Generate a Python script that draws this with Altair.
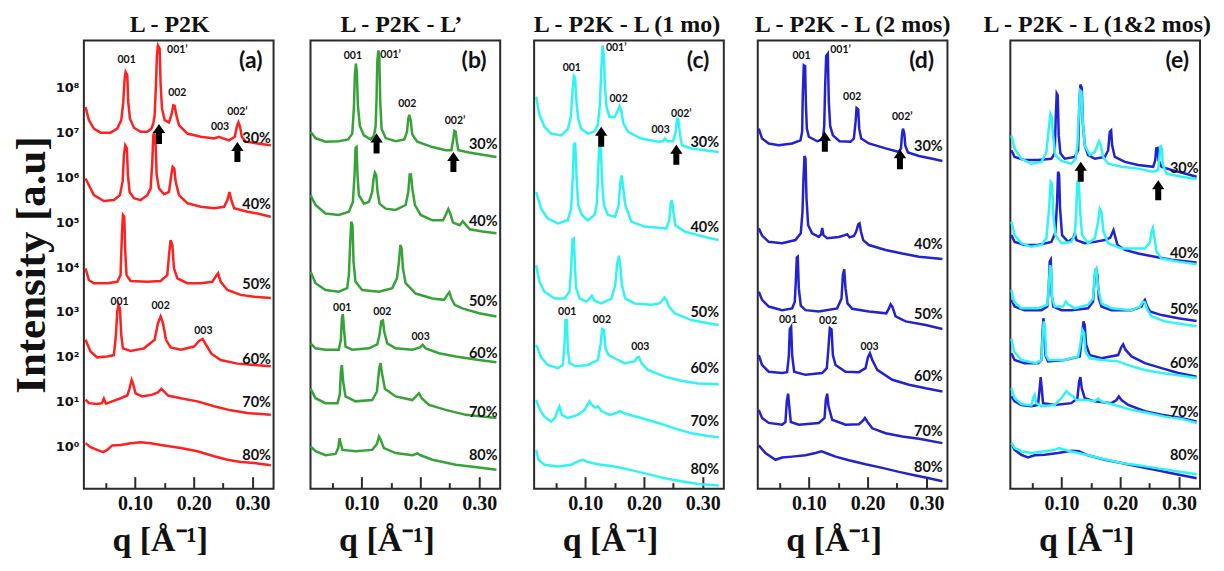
import altair as alt
import pandas as pd

# ---------------- axis / scale values ----------------
X_DOMAIN = [0.0131, 0.3358]
Y_DOMAIN = [-0.933, 9.044]
X_MAJOR = [0.10, 0.20, 0.30]
X_MINOR = [0.05, 0.15, 0.25]
Y_TICKS = [0, 1, 2, 3, 4, 5, 6, 7, 8]
PCT_NAMES = ["30%", "40%", "50%", "60%", "70%", "80%"]
TITLES = ["L - P2K", "L - P2K - L\u2019", "L - P2K - L (1 mo)", "L - P2K - L (2 mos)", "L - P2K - L (1&2 mos)"]

# ---------------- panel (a) L-P2K : (q, log10 I) ----------------
A30 = [(0.0159,7.56),(0.0216,7.27),(0.0301,7.08),(0.0415,6.99),(0.0585,6.99),(0.0699,7.08),(0.0767,7.27),(0.0801,7.67),(0.0824,8.19),(0.0841,8.34),(0.0869,8.27),(0.0886,7.67),(0.0915,7.30),(0.0983,7.10),(0.1096,7.01),(0.1210,7.01),(0.1278,7.08),(0.1312,7.19),(0.1335,7.38),(0.1357,8.05),(0.1374,8.71),(0.1391,8.93),(0.1420,8.86),(0.1437,8.05),(0.1460,7.53),(0.1505,7.27),(0.1579,7.22),(0.1619,7.38),(0.1653,7.60),(0.1675,7.59),(0.1704,7.38),(0.1749,7.16),(0.1891,6.97),(0.2119,6.90),(0.2346,6.86),(0.2431,6.90),(0.2488,6.87),(0.2601,6.82),(0.2698,6.90),(0.2732,7.12),(0.2760,7.22),(0.2789,7.12),(0.2817,6.90),(0.2885,6.79),(0.3084,6.75),(0.3311,6.71)]
A40 = [(0.0159,5.97),(0.0301,5.60),(0.0471,5.47),(0.0642,5.49),(0.0744,5.60),(0.0790,5.90),(0.0812,6.49),(0.0835,6.71),(0.0863,6.64),(0.0880,6.05),(0.0909,5.67),(0.0983,5.53),(0.1096,5.49),(0.1210,5.60),(0.1267,5.75),(0.1295,6.34),(0.1312,6.93),(0.1329,7.01),(0.1352,6.71),(0.1369,6.05),(0.1409,5.75),(0.1494,5.62),(0.1579,5.67),(0.1619,6.05),(0.1641,6.23),(0.1670,6.19),(0.1692,5.90),(0.1749,5.60),(0.1891,5.42),(0.2119,5.34),(0.2346,5.31),(0.2516,5.34),(0.2573,5.49),(0.2607,5.67),(0.2641,5.49),(0.2687,5.31),(0.2914,5.23),(0.3084,5.19),(0.3311,5.12)]
A50 = [(0.0159,3.97),(0.0216,3.71),(0.0301,3.64),(0.0528,3.64),(0.0699,3.67),(0.0755,3.82),(0.0778,4.71),(0.0795,5.16),(0.0818,5.12),(0.0835,4.34),(0.0857,3.82),(0.0926,3.69),(0.1210,3.67),(0.1437,3.69),(0.1550,3.82),(0.1585,4.34),(0.1607,4.60),(0.1636,4.49),(0.1664,3.97),(0.1721,3.75),(0.1891,3.64),(0.2119,3.64),(0.2317,3.67),(0.2374,3.79),(0.2414,3.86),(0.2459,3.67),(0.2573,3.49),(0.2800,3.38),(0.3027,3.34),(0.3311,3.31)]
A60 = [(0.0159,2.38),(0.0244,2.12),(0.0358,1.99),(0.0528,2.01),(0.0642,2.04),(0.0676,2.49),(0.0699,3.01),(0.0721,3.16),(0.0744,3.08),(0.0767,2.49),(0.0795,2.19),(0.0926,2.13),(0.1153,2.19),(0.1335,2.38),(0.1391,2.75),(0.1437,2.90),(0.1477,2.75),(0.1528,2.38),(0.1607,2.21),(0.1778,2.16),(0.2005,2.23),(0.2096,2.36),(0.2153,2.40),(0.2209,2.27),(0.2300,2.07),(0.2459,1.93),(0.2743,1.85),(0.3027,1.82),(0.3311,1.79)]
A70 = [(0.0159,1.05),(0.0216,0.97),(0.0358,0.95),(0.0437,0.97),(0.0471,1.07),(0.0506,0.96),(0.0613,1.01),(0.0755,1.08),(0.0869,1.14),(0.0909,1.30),(0.0943,1.49),(0.0971,1.39),(0.1011,1.19),(0.1125,1.12),(0.1295,1.16),(0.1391,1.21),(0.1448,1.29),(0.1494,1.23),(0.1562,1.14),(0.1778,1.08),(0.2062,1.01),(0.2346,0.90),(0.2630,0.81),(0.2914,0.75),(0.3311,0.71)]
A80 = [(0.0159,0.08),(0.0244,-0.01),(0.0358,-0.07),(0.0460,-0.12),(0.0528,-0.07),(0.0613,0.03),(0.0755,0.04),(0.0926,0.08),(0.1096,0.10),(0.1267,0.08),(0.1494,0.03),(0.1778,-0.03),(0.2062,-0.10),(0.2346,-0.21),(0.2573,-0.29),(0.2800,-0.34),(0.3027,-0.36),(0.3311,-0.41)]

# ---------------- panel (b) L-P2K-L' ----------------
B30 = [(0.0131,7.01),(0.0216,6.87),(0.0386,6.79),(0.0613,6.80),(0.0772,6.84),(0.0841,6.97),(0.0869,7.53),(0.0886,8.27),(0.0903,8.53),(0.0920,8.34),(0.0937,7.60),(0.0971,7.14),(0.1039,6.93),(0.1153,6.84),(0.1210,6.92),(0.1238,7.12),(0.1255,7.75),(0.1267,8.56),(0.1284,8.82),(0.1301,8.71),(0.1318,7.67),(0.1340,7.08),(0.1409,6.87),(0.1579,6.80),(0.1727,6.84),(0.1772,7.01),(0.1795,7.30),(0.1812,7.39),(0.1835,7.27),(0.1863,6.95),(0.1948,6.79),(0.2204,6.67),(0.2431,6.60),(0.2528,6.60),(0.2556,6.82),(0.2579,7.03),(0.2601,7.01),(0.2619,6.80),(0.2647,6.60),(0.2829,6.55),(0.3056,6.50),(0.3294,6.45)]
B40 = [(0.0131,5.60),(0.0216,5.38),(0.0386,5.19),(0.0613,5.16),(0.0784,5.23),(0.0852,5.45),(0.0880,6.04),(0.0897,6.65),(0.0914,6.67),(0.0931,6.04),(0.0954,5.60),(0.1039,5.41),(0.1125,5.45),(0.1181,5.67),(0.1204,5.97),(0.1227,6.10),(0.1249,6.04),(0.1272,5.67),(0.1306,5.41),(0.1409,5.30),(0.1579,5.27),(0.1749,5.38),(0.1795,5.67),(0.1818,6.06),(0.1840,6.06),(0.1863,5.75),(0.1908,5.38),(0.2005,5.16),(0.2204,5.04),(0.2386,5.04),(0.2442,5.19),(0.2476,5.29),(0.2511,5.18),(0.2556,4.99),(0.2670,4.93),(0.2721,5.02),(0.2760,4.96),(0.2840,4.84),(0.3056,4.79),(0.3294,4.75)]
B50 = [(0.0131,3.90),(0.0216,3.64),(0.0386,3.49),(0.0613,3.45),(0.0755,3.53),(0.0784,3.82),(0.0807,4.56),(0.0824,5.01),(0.0846,4.93),(0.0863,4.12),(0.0897,3.67),(0.1011,3.49),(0.1295,3.45),(0.1522,3.53),(0.1602,3.75),(0.1636,4.12),(0.1659,4.49),(0.1681,4.41),(0.1704,3.97),(0.1749,3.64),(0.1920,3.41),(0.2204,3.30),(0.2403,3.27),(0.2459,3.38),(0.2493,3.44),(0.2528,3.30),(0.2584,3.16),(0.2715,3.08),(0.2999,2.97),(0.3294,2.90)]
B60 = [(0.0131,2.30),(0.0216,2.19),(0.0386,2.16),(0.0613,2.16),(0.0647,2.38),(0.0665,2.86),(0.0682,2.95),(0.0699,2.64),(0.0727,2.23),(0.0841,2.16),(0.1125,2.19),(0.1267,2.28),(0.1306,2.50),(0.1335,2.79),(0.1363,2.81),(0.1386,2.56),(0.1437,2.30),(0.1579,2.19),(0.1863,2.16),(0.1994,2.21),(0.2039,2.27),(0.2090,2.19),(0.2317,2.08),(0.2601,2.01),(0.2999,1.93),(0.3294,1.88)]
B70 = [(0.0131,1.30),(0.0216,1.08),(0.0386,0.97),(0.0591,0.97),(0.0630,1.16),(0.0647,1.67),(0.0665,1.82),(0.0687,1.45),(0.0727,1.12),(0.0897,1.01),(0.1181,1.04),(0.1261,1.23),(0.1301,1.75),(0.1323,1.86),(0.1346,1.64),(0.1397,1.29),(0.1579,1.12),(0.1863,1.04),(0.1937,1.14),(0.1977,1.19),(0.2022,1.08),(0.2147,0.93),(0.2431,0.82),(0.2772,0.71),(0.3294,0.64)]
B80 = [(0.0131,0.01),(0.0216,-0.10),(0.0386,-0.19),(0.0557,-0.16),(0.0602,-0.03),(0.0625,0.19),(0.0642,0.08),(0.0676,-0.07),(0.0897,-0.10),(0.1181,-0.07),(0.1261,0.06),(0.1295,0.23),(0.1323,0.16),(0.1380,-0.03),(0.1579,-0.14),(0.1863,-0.19),(0.1948,-0.15),(0.2005,-0.19),(0.2204,-0.29),(0.2601,-0.40),(0.2999,-0.46),(0.3294,-0.51)]

# ---------------- panel (c) L-P2K-L (1 mo) ----------------
C30 = [(0.0165,7.79),(0.0222,7.38),(0.0307,7.12),(0.0420,6.97),(0.0591,6.93),(0.0704,7.07),(0.0755,7.34),(0.0784,7.90),(0.0807,8.25),(0.0829,8.21),(0.0852,7.67),(0.0880,7.30),(0.0931,7.08),(0.1045,6.97),(0.1159,7.02),(0.1215,7.16),(0.1249,7.60),(0.1272,8.34),(0.1295,8.93),(0.1318,8.71),(0.1335,8.04),(0.1363,7.56),(0.1414,7.34),(0.1500,7.34),(0.1556,7.49),(0.1585,7.58),(0.1613,7.49),(0.1647,7.21),(0.1727,7.01),(0.1954,6.86),(0.2238,6.79),(0.2323,6.80),(0.2357,6.86),(0.2397,6.80),(0.2493,6.80),(0.2539,7.01),(0.2562,7.30),(0.2584,7.29),(0.2613,6.93),(0.2647,6.71),(0.2806,6.64),(0.3033,6.60),(0.3272,6.56)]
C40 = [(0.0165,5.67),(0.0250,5.30),(0.0363,5.08),(0.0534,4.97),(0.0704,5.04),(0.0761,5.30),(0.0790,6.04),(0.0807,6.71),(0.0829,6.77),(0.0852,6.04),(0.0880,5.38),(0.0943,5.16),(0.1045,5.04),(0.1159,5.16),(0.1198,5.41),(0.1221,6.19),(0.1244,6.80),(0.1266,6.71),(0.1284,5.97),(0.1318,5.38),(0.1386,5.16),(0.1511,5.12),(0.1568,5.38),(0.1596,5.86),(0.1619,6.04),(0.1641,5.82),(0.1681,5.38),(0.1784,5.01),(0.2011,4.90),(0.2380,4.86),(0.2431,5.04),(0.2454,5.41),(0.2476,5.49),(0.2499,5.23),(0.2533,4.93),(0.2692,4.79),(0.2919,4.71),(0.3090,4.65),(0.3272,4.60)]
C50 = [(0.0165,4.04),(0.0222,3.67),(0.0307,3.45),(0.0477,3.30),(0.0648,3.30),(0.0733,3.45),(0.0761,3.97),(0.0784,4.62),(0.0807,4.64),(0.0824,4.04),(0.0846,3.53),(0.0903,3.30),(0.1017,3.23),(0.1079,3.30),(0.1113,3.36),(0.1159,3.25),(0.1272,3.19),(0.1443,3.29),(0.1511,3.60),(0.1545,4.08),(0.1573,4.25),(0.1596,4.04),(0.1624,3.60),(0.1681,3.30),(0.1840,3.19),(0.2124,3.16),(0.2266,3.19),(0.2317,3.27),(0.2351,3.32),(0.2386,3.26),(0.2425,3.12),(0.2522,2.97),(0.2806,2.82),(0.3090,2.75),(0.3272,2.71)]
C60 = [(0.0165,2.27),(0.0250,1.99),(0.0363,1.82),(0.0534,1.75),(0.0619,1.82),(0.0648,2.27),(0.0665,2.82),(0.0687,2.82),(0.0704,2.19),(0.0733,1.86),(0.0846,1.79),(0.1045,1.82),(0.1215,1.93),(0.1261,2.27),(0.1289,2.62),(0.1318,2.60),(0.1346,2.19),(0.1397,2.04),(0.1500,1.97),(0.1670,1.86),(0.1840,1.90),(0.1886,1.99),(0.1914,2.00),(0.1954,1.86),(0.2068,1.71),(0.2351,1.56),(0.2636,1.47),(0.2919,1.41),(0.3272,1.39)]
C70 = [(0.0165,1.04),(0.0222,0.84),(0.0307,0.67),(0.0420,0.56),(0.0488,0.65),(0.0534,0.82),(0.0562,0.90),(0.0602,0.71),(0.0704,0.64),(0.0875,0.71),(0.0988,0.82),(0.1045,0.95),(0.1073,1.01),(0.1113,0.93),(0.1170,0.87),(0.1215,0.90),(0.1272,0.80),(0.1414,0.71),(0.1528,0.75),(0.1585,0.79),(0.1698,0.73),(0.1954,0.64),(0.2238,0.53),(0.2522,0.41),(0.2806,0.30),(0.3090,0.24),(0.3272,0.21)]
C80 = [(0.0165,-0.07),(0.0204,-0.29),(0.0307,-0.40),(0.0534,-0.44),(0.0761,-0.40),(0.0903,-0.31),(0.0960,-0.29),(0.1045,-0.34),(0.1215,-0.39),(0.1500,-0.44),(0.1784,-0.52),(0.2068,-0.61),(0.2351,-0.70),(0.2636,-0.77),(0.2919,-0.83),(0.3272,-0.86)]

# ---------------- panel (d) L-P2K-L (2 mos) ----------------
D30 = [(0.0148,7.08),(0.0204,6.86),(0.0318,6.75),(0.0488,6.71),(0.0716,6.75),(0.0858,6.82),(0.0886,7.01),(0.0897,7.82),(0.0914,8.49),(0.0937,8.47),(0.0949,7.67),(0.0966,7.08),(0.1000,6.90),(0.1142,6.80),(0.1238,6.84),(0.1261,7.12),(0.1278,8.04),(0.1295,8.70),(0.1323,8.75),(0.1340,7.67),(0.1363,7.14),(0.1409,6.93),(0.1522,6.80),(0.1710,6.79),(0.1766,6.86),(0.1795,7.23),(0.1812,7.54),(0.1840,7.51),(0.1857,7.08),(0.1891,6.86),(0.2022,6.75),(0.2306,6.64),(0.2533,6.56),(0.2567,6.64),(0.2584,6.93),(0.2601,7.08),(0.2624,6.97),(0.2641,6.70),(0.2687,6.55),(0.2874,6.47),(0.3101,6.41),(0.3272,6.36)]
D40 = [(0.0148,4.86),(0.0204,4.70),(0.0318,4.56),(0.0545,4.53),(0.0772,4.60),(0.0863,4.75),(0.0892,5.23),(0.0909,5.97),(0.0926,6.47),(0.0943,6.41),(0.0960,5.53),(0.0988,4.93),(0.1056,4.75),(0.1170,4.67),(0.1210,4.73),(0.1227,4.87),(0.1249,4.71),(0.1312,4.64),(0.1511,4.67),(0.1613,4.71),(0.1653,4.73),(0.1692,4.66),(0.1766,4.69),(0.1806,4.79),(0.1840,4.95),(0.1863,4.97),(0.1886,4.79),(0.1925,4.60),(0.2022,4.49),(0.2306,4.38),(0.2590,4.30),(0.2874,4.23),(0.3272,4.18)]
D50 = [(0.0148,3.45),(0.0204,3.27),(0.0318,3.12),(0.0545,3.04),(0.0716,3.08),(0.0761,3.23),(0.0778,3.67),(0.0795,4.21),(0.0812,4.23),(0.0829,3.53),(0.0863,3.14),(0.0943,3.04),(0.1170,3.01),(0.1482,3.08),(0.1556,3.30),(0.1579,3.82),(0.1602,3.95),(0.1624,3.53),(0.1658,3.19),(0.1738,3.07),(0.2022,3.01),(0.2317,2.97),(0.2363,3.08),(0.2391,3.17),(0.2420,3.12),(0.2476,2.90),(0.2647,2.79),(0.2987,2.71),(0.3272,2.62)]
D60 = [(0.0148,2.04),(0.0204,1.82),(0.0318,1.67),(0.0545,1.64),(0.0630,1.66),(0.0659,2.01),(0.0676,2.62),(0.0699,2.67),(0.0716,2.04),(0.0750,1.67),(0.0943,1.60),(0.1227,1.64),(0.1306,1.75),(0.1335,2.23),(0.1357,2.64),(0.1386,2.61),(0.1409,2.04),(0.1454,1.82),(0.1624,1.67),(0.1852,1.66),(0.1965,1.75),(0.2005,1.99),(0.2039,2.08),(0.2079,1.93),(0.2164,1.71),(0.2420,1.49),(0.2704,1.38),(0.2987,1.30),(0.3272,1.23)]
D70 = [(0.0148,0.82),(0.0204,0.64),(0.0318,0.53),(0.0545,0.49),(0.0602,0.55),(0.0625,1.01),(0.0647,1.18),(0.0665,0.93),(0.0693,0.55),(0.0829,0.49),(0.1170,0.53),(0.1267,0.64),(0.1289,1.04),(0.1312,1.18),(0.1335,0.90),(0.1397,0.60),(0.1624,0.49),(0.1852,0.50),(0.1920,0.58),(0.1954,0.64),(0.1999,0.55),(0.2079,0.41),(0.2306,0.30),(0.2590,0.23),(0.2874,0.18),(0.3272,0.08)]
D80 = [(0.0148,0.03),(0.0261,-0.14),(0.0432,-0.29),(0.0545,-0.24),(0.0716,-0.22),(0.0943,-0.19),(0.1113,-0.14),(0.1215,-0.10),(0.1312,-0.15),(0.1454,-0.22),(0.1681,-0.30),(0.1965,-0.39),(0.2249,-0.47),(0.2533,-0.56),(0.2817,-0.64),(0.3044,-0.70),(0.3272,-0.77)]

# ---------------- panel (e) overlay: 2 mos (blue) & 1 mo (cyan) ----------------
E30B = [(0.0148,6.60),(0.0204,6.45),(0.0375,6.38),(0.0602,6.38),(0.0829,6.41),(0.0886,6.53),(0.0903,7.30),(0.0920,7.86),(0.0937,7.82),(0.0954,6.93),(0.0983,6.53),(0.1056,6.41),(0.1227,6.45),(0.1284,6.60),(0.1306,7.67),(0.1323,8.06),(0.1346,7.99),(0.1363,7.23),(0.1397,6.71),(0.1454,6.49),(0.1568,6.41),(0.1738,6.45),(0.1795,6.60),(0.1823,7.01),(0.1846,7.04),(0.1863,6.71),(0.1908,6.45),(0.2079,6.34),(0.2306,6.27),(0.2562,6.23),(0.2596,6.38),(0.2613,6.64),(0.2635,6.65),(0.2652,6.38),(0.2704,6.23),(0.2874,6.16),(0.3101,6.08),(0.3300,6.01)]
E30C = [(0.0148,6.93),(0.0204,6.64),(0.0318,6.41),(0.0488,6.30),(0.0659,6.34),(0.0744,6.55),(0.0784,7.08),(0.0812,7.41),(0.0835,7.34),(0.0858,6.93),(0.0897,6.49),(0.1000,6.36),(0.1170,6.30),(0.1244,6.41),(0.1272,6.71),(0.1295,7.38),(0.1318,7.93),(0.1340,7.90),(0.1363,7.23),(0.1397,6.71),(0.1482,6.50),(0.1568,6.56),(0.1613,6.71),(0.1641,6.80),(0.1670,6.71),(0.1710,6.45),(0.1795,6.30),(0.2022,6.23),(0.2306,6.19),(0.2562,6.12),(0.2647,6.16),(0.2670,6.49),(0.2687,6.71),(0.2709,6.64),(0.2726,6.27),(0.2789,6.08),(0.3044,6.01),(0.3300,5.96)]
E40B = [(0.0148,4.71),(0.0204,4.56),(0.0375,4.49),(0.0602,4.49),(0.0829,4.56),(0.0897,4.77),(0.0926,5.45),(0.0943,6.12),(0.0960,6.06),(0.0977,5.30),(0.1011,4.71),(0.1113,4.56),(0.1199,4.64),(0.1227,4.75),(0.1255,4.60),(0.1397,4.53),(0.1568,4.56),(0.1738,4.60),(0.1829,4.65),(0.1863,4.75),(0.1886,4.82),(0.1908,4.71),(0.1954,4.49),(0.2079,4.38),(0.2306,4.30),(0.2590,4.23),(0.2874,4.16),(0.3300,4.10)]
E40C = [(0.0148,5.01),(0.0204,4.71),(0.0318,4.53),(0.0488,4.45),(0.0659,4.49),(0.0744,4.64),(0.0790,5.30),(0.0818,5.90),(0.0841,5.86),(0.0863,5.16),(0.0897,4.71),(0.1000,4.53),(0.1170,4.56),(0.1227,4.71),(0.1249,5.16),(0.1272,5.90),(0.1295,5.90),(0.1318,5.23),(0.1352,4.71),(0.1454,4.53),(0.1568,4.64),(0.1624,5.01),(0.1653,5.30),(0.1681,5.23),(0.1715,4.79),(0.1795,4.53),(0.2022,4.41),(0.2420,4.41),(0.2505,4.55),(0.2533,4.79),(0.2556,4.87),(0.2579,4.67),(0.2618,4.34),(0.2704,4.19),(0.2987,4.12),(0.3300,4.06)]
E50B = [(0.0148,3.27),(0.0204,3.12),(0.0375,3.04),(0.0659,3.04),(0.0761,3.12),(0.0784,3.53),(0.0801,4.12),(0.0818,4.16),(0.0835,3.38),(0.0863,3.12),(0.1000,3.04),(0.1170,3.04),(0.1454,3.08),(0.1539,3.23),(0.1568,3.82),(0.1590,3.97),(0.1613,3.82),(0.1636,3.30),(0.1681,3.12),(0.1852,3.04),(0.2193,3.04),(0.2363,3.12),(0.2397,3.23),(0.2420,3.27),(0.2448,3.16),(0.2505,3.01),(0.2704,2.93),(0.2987,2.86),(0.3300,2.80)]
E50C = [(0.0148,3.49),(0.0193,3.23),(0.0318,3.08),(0.0602,3.08),(0.0761,3.16),(0.0790,3.67),(0.0807,4.04),(0.0823,3.97),(0.0841,3.30),(0.0886,3.12),(0.1028,3.12),(0.1073,3.23),(0.1113,3.17),(0.1227,3.08),(0.1454,3.16),(0.1539,3.30),(0.1568,3.88),(0.1596,3.96),(0.1624,3.53),(0.1681,3.19),(0.1852,3.08),(0.2193,3.04),(0.2335,3.12),(0.2386,3.23),(0.2420,3.21),(0.2465,3.04),(0.2533,2.90),(0.2760,2.79),(0.3044,2.73),(0.3300,2.68)]
E60B = [(0.0148,2.08),(0.0204,1.93),(0.0375,1.86),(0.0602,1.86),(0.0659,1.93),(0.0676,2.49),(0.0693,2.86),(0.0710,2.64),(0.0727,2.04),(0.0772,1.90),(0.1056,1.93),(0.1312,2.01),(0.1352,2.49),(0.1375,2.79),(0.1397,2.71),(0.1420,2.27),(0.1482,2.04),(0.1681,1.97),(0.1965,2.04),(0.2016,2.21),(0.2050,2.28),(0.2090,2.16),(0.2193,2.01),(0.2420,1.86),(0.2704,1.75),(0.2987,1.64),(0.3300,1.56)]
E60C = [(0.0148,2.41),(0.0193,2.12),(0.0318,1.93),(0.0573,1.86),(0.0659,1.93),(0.0682,2.49),(0.0699,2.79),(0.0721,2.64),(0.0738,2.04),(0.0784,1.93),(0.1056,1.93),(0.1284,2.01),(0.1329,2.34),(0.1357,2.60),(0.1386,2.53),(0.1409,2.12),(0.1482,1.97),(0.1681,1.93),(0.1965,1.90),(0.2193,1.79),(0.2420,1.71),(0.2704,1.64),(0.2987,1.59),(0.3300,1.53)]
E70B = [(0.0148,1.12),(0.0204,1.01),(0.0318,0.93),(0.0488,0.90),(0.0602,0.93),(0.0630,1.30),(0.0647,1.55),(0.0665,1.30),(0.0687,0.97),(0.0886,0.93),(0.1170,0.97),(0.1272,1.08),(0.1301,1.45),(0.1323,1.55),(0.1346,1.30),(0.1397,1.08),(0.1568,1.01),(0.1852,0.97),(0.1937,1.04),(0.1977,1.12),(0.2022,1.04),(0.2136,0.93),(0.2420,0.79),(0.2704,0.71),(0.2987,0.65),(0.3300,0.56)]
E70C = [(0.0148,1.30),(0.0204,1.08),(0.0318,0.95),(0.0488,0.92),(0.0523,1.10),(0.0545,1.16),(0.0573,0.97),(0.0659,0.90),(0.0886,0.93),(0.1011,1.10),(0.1085,1.24),(0.1142,1.17),(0.1199,1.12),(0.1255,1.04),(0.1397,1.04),(0.1568,1.02),(0.1624,1.07),(0.1681,1.01),(0.1908,0.93),(0.2193,0.82),(0.2477,0.75),(0.2760,0.67),(0.3044,0.62),(0.3300,0.53)]
E80B = [(0.0148,0.08),(0.0204,-0.07),(0.0318,-0.18),(0.0432,-0.24),(0.0545,-0.19),(0.0716,-0.18),(0.0943,-0.14),(0.1170,-0.09),(0.1295,-0.10),(0.1454,-0.19),(0.1738,-0.29),(0.2022,-0.36),(0.2306,-0.44),(0.2590,-0.51),(0.2874,-0.59),(0.3300,-0.70)]
E80C = [(0.0148,0.08),(0.0204,-0.03),(0.0318,-0.10),(0.0488,-0.14),(0.0716,-0.10),(0.0886,-0.07),(0.0954,-0.03),(0.1113,-0.09),(0.1284,-0.14),(0.1454,-0.19),(0.1738,-0.28),(0.2022,-0.36),(0.2306,-0.41),(0.2590,-0.47),(0.2874,-0.53),(0.3300,-0.61)]

# ---------------- annotations: (text, q, log10 I) ----------------
A_PEAKS = [("001",0.0858,8.60),("001\u2019",0.1721,8.82),("002",0.1721,7.88),("003",0.2448,7.12),("002\u2019",0.2743,7.44),("001",0.0738,3.23),("002",0.1437,3.14),("003",0.2164,2.58)]
B_PEAKS = [("001",0.0852,8.70),("001\u2019",0.1494,8.71),("002",0.1778,7.62),("002\u2019",0.2590,7.24),("001",0.0670,3.08),("002",0.1352,3.01),("003",0.2005,2.45)]
C_PEAKS = [("001",0.0772,8.44),("001\u2019",0.1528,8.87),("002",0.1568,7.75),("003",0.2283,7.04),("002\u2019",0.2636,7.40),("001",0.0693,2.99),("002",0.1284,2.82),("003",0.1937,2.21)]
D_PEAKS = [("001",0.0875,8.70),("001\u2019",0.1539,8.82),("002",0.1738,7.79),("002\u2019",0.2590,7.34),("001",0.0648,2.81),("002",0.1329,2.79),("003",0.2033,2.23)]
E_PEAKS = []

A_PCT_Y = [6.85, 5.38, 3.59, 1.93, 0.97, -0.20]
B_PCT_Y = [6.71, 5.01, 3.23, 2.06, 0.76, -0.21]
C_PCT_Y = [6.77, 4.86, 2.97, 1.73, 0.54, -0.51]
D_PCT_Y = [6.67, 4.49, 2.93, 1.56, 0.33, -0.47]
E_PCT_Y = [6.19, 4.28, 3.04, 1.84, 0.76, -0.21]
PCT_Q = [0.307, 0.307, 0.3033, 0.3033, 0.309]

LETTERS = ["(a)", "(b)", "(c)", "(d)", "(e)"]
LETTER_Q = [0.2971, 0.2914, 0.2920, 0.2919, 0.2971]
LETTER_Y = 8.59

A_ARROWS = [(0.1409, 6.96), (0.2743, 6.56)]
B_ARROWS = [(0.1255, 6.75), (0.2562, 6.34)]
C_ARROWS = [(0.1272, 6.90), (0.2550, 6.50)]
D_ARROWS = [(0.1272, 6.79), (0.2550, 6.40)]
E_ARROWS = [(0.1329, 6.12), (0.2647, 5.71)]

# ---------------- styling ----------------
RED = "#FF2020"
GREEN = "#37A237"
CYAN = "#30F4F4"
BLUE = "#2222D2"
INK = "#111111"
FRAME = "#2b2b2b"
W, H = 190, 449
ARROW = "M-0.3,1L0.3,1L0.3,-0.1L0.62,-0.1L0,-1L-0.62,-0.1L-0.3,-0.1Z"
SUP = ["\u2070", "\u00b9", "\u00b2", "\u00b3", "\u2074", "\u2075", "\u2076", "\u2077", "\u2078"]


def curve_frame(curves):
    rows = []
    for name, pts, color in curves:
        for i, (q, v) in enumerate(pts):
            rows.append({"q": q, "v": v, "curve": name, "color": color, "idx": i})
    return pd.DataFrame(rows)


def make_panel(k, curves, peaks, pct_y, arrows, show_y, title_dx):
    xs = alt.Scale(domain=X_DOMAIN, nice=False, zero=False)
    ys = alt.Scale(domain=Y_DOMAIN, nice=False, zero=False)
    major = alt.Axis(values=X_MAJOR, format=".2f", orient="bottom", tickSize=12, offset=-12,
                     domain=False, grid=False, tickColor=FRAME, tickWidth=2,
                     labelFont="Liberation Serif", labelFontSize=20, labelFontWeight="bold",
                     labelColor=INK, labelPadding=5,
                     title="q [\u00c5\u207b\u00b9]", titleFont="Liberation Serif", titleFontSize=34,
                     titleFontWeight="bold", titleColor=INK, titlePadding=10, titleX=76)
    minor = alt.Axis(values=X_MINOR, orient="bottom", tickSize=6, offset=-6, domain=False,
                     grid=False, labels=False, tickColor=FRAME, tickWidth=2)

    def ychan():
        if show_y:
            sup_list = "[" + ",".join("'" + s + "'" for s in SUP) + "]"
            yaxis = alt.Axis(values=Y_TICKS, labelExpr="'10' + " + sup_list + "[datum.value]",
                             ticks=False, domain=False, grid=False, labelFont="DejaVu Sans",
                             labelFontSize=13, labelFontWeight="bold", labelColor=INK,
                             labelPadding=5, title="Intensity [a.u]",
                             titleFont="Liberation Serif", titleFontSize=43,
                             titleFontWeight="bold", titleColor=INK, titlePadding=2)
            return alt.Y("v:Q", scale=ys, axis=yaxis)
        return alt.Y("v:Q", scale=ys, axis=None)

    lines = alt.Chart(curve_frame(curves)).mark_line(strokeWidth=2.5).encode(
        x=alt.X("q:Q", scale=xs, axis=major),
        y=ychan(),
        detail="curve:N",
        color=alt.Color("color:N", scale=None),
        order="idx:Q",
    )
    layers = [lines]

    pct_df = pd.DataFrame({"text": PCT_NAMES, "q": [PCT_Q[k]] * 6, "v": pct_y})
    layers.append(alt.Chart(pct_df).mark_text(font="Lato", fontSize=14.5, fontWeight="bold",
                                              color=INK, align="center", baseline="middle").encode(
        x=alt.X("q:Q", scale=xs, axis=minor, title=None),
        y=ychan(), text="text:N"))

    if peaks:
        pk = pd.DataFrame(peaks, columns=["text", "q", "v"])
        layers.append(alt.Chart(pk).mark_text(font="Lato", fontSize=10.5, fontWeight="bold",
                                              color=INK, align="center", baseline="middle").encode(
            x=alt.X("q:Q", scale=xs, axis=None), y=ychan(), text="text:N"))

    let_df = pd.DataFrame({"text": [LETTERS[k]], "q": [LETTER_Q[k]], "v": [LETTER_Y]})
    layers.append(alt.Chart(let_df).mark_text(font="Lato", fontSize=23, fontWeight="bold",
                                              color=INK, align="center", baseline="middle").encode(
        x=alt.X("q:Q", scale=xs, axis=None), y=ychan(), text="text:N"))

    ar = pd.DataFrame(arrows, columns=["q", "v"])
    layers.append(alt.Chart(ar).mark_point(shape=ARROW, size=400, filled=True, color="#000000",
                                           opacity=1, strokeWidth=0).encode(
        x=alt.X("q:Q", scale=xs, axis=None), y=ychan()))

    return alt.layer(*layers).resolve_axis(x="independent").properties(
        width=W, height=H,
        title=alt.TitleParams(TITLES[k], font="Liberation Serif", fontSize=24, fontWeight="bold",
                              color=INK, frame="group", anchor="middle", offset=3, dx=title_dx),
    )


pcts = ["30", "40", "50", "60", "70", "80"]
pa = make_panel(0, [(p, c, RED) for p, c in zip(pcts, [A30, A40, A50, A60, A70, A80])],
                A_PEAKS, A_PCT_Y, A_ARROWS, True, -9)
pb = make_panel(1, [(p, c, GREEN) for p, c in zip(pcts, [B30, B40, B50, B60, B70, B80])],
                B_PEAKS, B_PCT_Y, B_ARROWS, False, -4)
pc = make_panel(2, [(p, c, CYAN) for p, c in zip(pcts, [C30, C40, C50, C60, C70, C80])],
                C_PEAKS, C_PCT_Y, C_ARROWS, False, -2)
pd_ = make_panel(3, [(p, c, BLUE) for p, c in zip(pcts, [D30, D40, D50, D60, D70, D80])],
                 D_PEAKS, D_PCT_Y, D_ARROWS, False, 0)
e_curves = []
for p, b, c in zip(pcts, [E30B, E40B, E50B, E60B, E70B, E80B], [E30C, E40C, E50C, E60C, E70C, E80C]):
    e_curves.append(("b" + p, b, BLUE))
    e_curves.append(("c" + p, c, CYAN))
pe = make_panel(4, e_curves, E_PEAKS, E_PCT_Y, E_ARROWS, False, -8)

chart = alt.hconcat(pa, pb, pc, pd_, pe, spacing=27).configure_view(
    stroke=FRAME, strokeWidth=2
).properties(padding={"left": 1, "top": 4, "right": 2, "bottom": 2}, background="white")

chart.save("out.html", embed_options={"renderer": "svg", "actions": False})
